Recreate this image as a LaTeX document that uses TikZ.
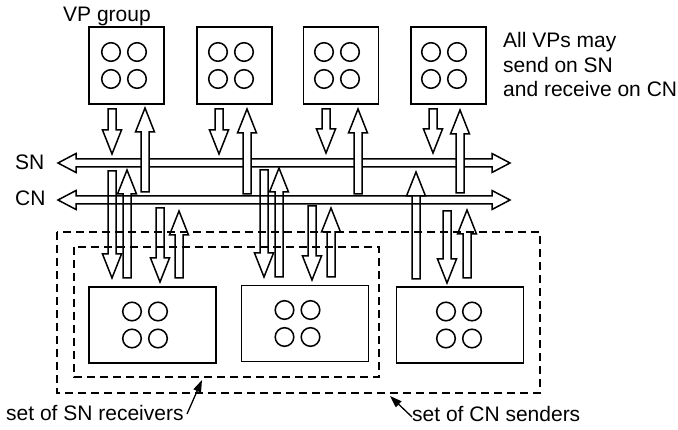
\documentclass[tikz,border=0pt]{standalone}
\usepackage{fontspec}
\setmainfont{Liberation Sans}
\usetikzlibrary{arrows.meta}

% hollow block arrows: #1 = x of the axis, #2 = y of the tail, #3 = y of the tip
\newcommand\blkdown[3]{%
  \draw[blk] ({#1-4},#2) -- ({#1-4},{#3-24}) -- ({#1-9.5},{#3-24}) -- (#1,#3)
    -- ({#1+9.5},{#3-24}) -- ({#1+4},{#3-24}) -- ({#1+4},#2) -- cycle;}
\newcommand\blkup[4][]{%
  \draw[blk,#1] ({#2-4},#3) -- ({#2-4},{#4+24}) -- ({#2-9.5},{#4+24}) -- (#2,#4)
    -- ({#2+9.5},{#4+24}) -- ({#2+4},{#4+24}) -- ({#2+4},#3) -- cycle;}
% two-headed bus arrow at height #1
\newcommand\blkbus[1]{%
  \draw[blk,fill=white] (58,#1) -- (76,{#1-9.5}) -- (76,{#1-4}) -- (492,{#1-4})
    -- (492,{#1-9.5}) -- (510,#1) -- (492,{#1+9.5}) -- (492,{#1+4})
    -- (76,{#1+4}) -- (76,{#1+9.5}) -- cycle;}

\tikzset{
  lw/.style={line width=1.5pt},
  blk/.style={lw, line join=miter},
  vpbox/.style={draw, lw, minimum width=75pt, minimum height=77pt, inner sep=0pt},
  pebox/.style={draw, lw, minimum width=127pt, minimum height=76pt, inner sep=0pt},
  txt/.style={font=\fontsize{21}{24.5}\selectfont, inner sep=0pt, anchor=base west},
  setline/.style={lw, dash pattern=on 8pt off 5pt},
  lead/.style={line width=1.3pt, -{Triangle[length=12pt,width=8pt]}},
  quad/.pic={\foreach \dx in {-13,13}{\foreach \dy in {-13.5,13.5}{
      \draw[lw] (\dx,\dy) circle[radius=9.3pt];}}}
}

\begin{document}
\begin{tikzpicture}[x=1pt,y=-1pt]
\useasboundingbox (0,0) rectangle (678,430);

% processor groups on top
\node[vpbox] (vp1) at (126.5,65.5) {};
\node[vpbox] (vp2) at (234.5,65.5) {};
\node[vpbox] (vp3) at (341,65.5) {};
\node[vpbox] (vp4) at (448.5,65.5) {};
\pic at (124,65.5) {quad};
\pic at (231,65.5) {quad};
\pic at (337,65.5) {quad};
\pic at (444,65.5) {quad};

% processor groups below
\node[pebox] (ra) at (152.5,325) {};
\node[pebox] (rb) at (305,323.5) {};
\node[pebox] (cs) at (460,325) {};
\pic at (145,325) {quad};
\pic at (297.5,323.5) {quad};
\pic at (459,325) {quad};

% the two networks
\blkbus{163}
\blkbus{200}

% sends onto SN
\blkdown{112}{109}{154}
\blkdown{219}{109}{154}
\blkdown{326}{109}{153}
\blkdown{433}{109}{153}
% receives from CN
\blkup[fill=white]{145}{192}{108}
\blkup[fill=white]{247}{194}{109}
\blkup[fill=white]{358}{194}{109}
\blkup[fill=white]{460}{193}{110}

% traffic of the lower groups
\blkdown{112}{171}{278}
\blkup{127}{278}{170}
\blkdown{160}{208}{282}
\blkup{179}{278}{211}
\blkdown{264}{170}{277}
\blkup{279}{277}{168}
\blkdown{312}{206}{280}
\blkup{331}{277}{208}
\blkup{416}{279}{172}
\blkdown{447}{211}{283}
\blkup{467}{278}{210}

% sets of senders and receivers
\draw[setline] (57,232) rectangle (540,393);
\draw[setline] (74,247) rectangle (379,377);

% labels
\node[txt] (grp) at (63,22) {VP group};
\node[txt] (note1) at (503,48) {All VPs may};
\node[txt] (note2) at (503,72.5) {send on SN};
\node[txt] (note3) at (503,97) {and receive on CN};
\node[txt] (sn) at (15,170) {SN};
\node[txt] (cn) at (15,206) {CN};
\node[txt] (recv) at (6,421) {set of SN receivers};
\node[txt] (send) at (412,422) {set of CN senders};

\coordinate (recvtail) at (187,414);
\coordinate (recvtip) at (202,380);
\coordinate (sendtail) at (412,417);
\coordinate (sendtip) at (390,396);
\draw[lead] (recvtail) -- (recvtip);
\draw[lead] (sendtail) -- (sendtip);
\end{tikzpicture}
\end{document}
